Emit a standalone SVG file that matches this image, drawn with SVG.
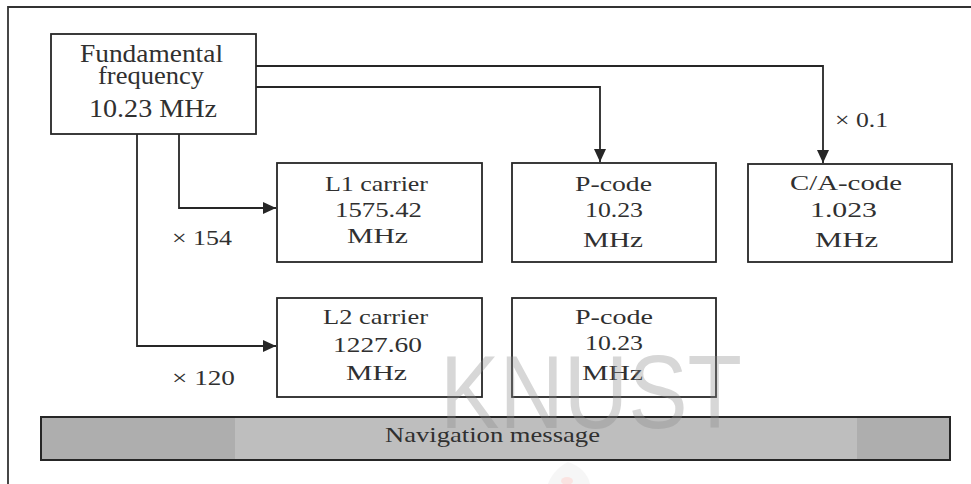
<svg xmlns="http://www.w3.org/2000/svg" width="971" height="484" viewBox="0 0 971 484">
  <style>
    .box { fill: #ffffff; stroke: #262626; stroke-width: 1.8; }
    .wire { fill: none; stroke: #262626; stroke-width: 1.8; }
    text { font-family: 'Liberation Serif', 'Times New Roman', Times, serif; }
    .t { font-size: 22px; fill: #303030; text-anchor: middle; }
    .big { font-size: 25px; }
    .lbl { text-anchor: start; }
  </style>
  <defs>
    <marker id="arrow" markerUnits="userSpaceOnUse" markerWidth="14" markerHeight="12" refX="13" refY="6" orient="auto">
      <path d="M0,0 L13,6 L0,12 z" fill="#262626"/>
    </marker>
  </defs>

  <rect width="971" height="484" fill="#ffffff"/>

  <!-- outer frame (top and left edges) -->
  <path d="M8,484 L8,7 L971,7" fill="none" stroke="#333" stroke-width="1.8"/>

  <!-- connectors -->
  <g id="connectors">
    <path class="wire" d="M256,66 H823 V163" marker-end="url(#arrow)"/>
    <path class="wire" d="M256,87 H600 V162" marker-end="url(#arrow)"/>
    <path class="wire" d="M179,134 V208 H276" marker-end="url(#arrow)"/>
    <path class="wire" d="M137,134 V346 H276" marker-end="url(#arrow)"/>
  </g>

  <!-- multiplier labels -->
  <g id="labels">
    <text class="t lbl" x="835" y="127" textLength="53" lengthAdjust="spacingAndGlyphs">× 0.1</text>
    <text class="t lbl" x="172" y="245" textLength="60" lengthAdjust="spacingAndGlyphs">× 154</text>
    <text class="t lbl" x="172" y="385" textLength="63" lengthAdjust="spacingAndGlyphs">× 120</text>
  </g>

  <g id="fundamental">
    <rect class="box" x="51" y="34" width="205" height="100"/>
    <text class="t big" x="151.5" y="62" textLength="143" lengthAdjust="spacingAndGlyphs">Fundamental</text>
    <text class="t big" x="151" y="84" textLength="106" lengthAdjust="spacingAndGlyphs">frequency</text>
    <text class="t big" x="153" y="117" textLength="128" lengthAdjust="spacingAndGlyphs">10.23 MHz</text>
  </g>

  <g id="l1-carrier">
    <rect class="box" x="277" y="163" width="205" height="99"/>
    <text class="t" x="376.5" y="191" textLength="103" lengthAdjust="spacingAndGlyphs">L1 carrier</text>
    <text class="t" x="378.5" y="217" textLength="87" lengthAdjust="spacingAndGlyphs">1575.42</text>
    <text class="t" x="377.5" y="243" textLength="61" lengthAdjust="spacingAndGlyphs">MHz</text>
  </g>

  <g id="p-code-1">
    <rect class="box" x="512" y="163" width="204" height="99"/>
    <text class="t" x="613.5" y="191" textLength="77" lengthAdjust="spacingAndGlyphs">P-code</text>
    <text class="t" x="614" y="217" textLength="58" lengthAdjust="spacingAndGlyphs">10.23</text>
    <text class="t" x="613" y="247" textLength="60" lengthAdjust="spacingAndGlyphs">MHz</text>
  </g>

  <g id="ca-code">
    <rect class="box" x="748" y="164" width="204" height="98"/>
    <text class="t" x="846" y="190" textLength="112" lengthAdjust="spacingAndGlyphs">C/A-code</text>
    <text class="t" x="843.5" y="217" textLength="67" lengthAdjust="spacingAndGlyphs">1.023</text>
    <text class="t" x="846.5" y="247" textLength="63" lengthAdjust="spacingAndGlyphs">MHz</text>
  </g>

  <g id="l2-carrier">
    <rect class="box" x="277" y="298" width="205" height="99"/>
    <text class="t" x="375.5" y="324" textLength="105" lengthAdjust="spacingAndGlyphs">L2 carrier</text>
    <text class="t" x="377.5" y="352" textLength="89" lengthAdjust="spacingAndGlyphs">1227.60</text>
    <text class="t" x="376.5" y="380" textLength="61" lengthAdjust="spacingAndGlyphs">MHz</text>
  </g>

  <g id="p-code-2">
    <rect class="box" x="512" y="298" width="204" height="99"/>
    <text class="t" x="614" y="324" textLength="78" lengthAdjust="spacingAndGlyphs">P-code</text>
    <text class="t" x="614" y="350" textLength="58" lengthAdjust="spacingAndGlyphs">10.23</text>
    <text class="t" x="612.5" y="380" textLength="61" lengthAdjust="spacingAndGlyphs">MHz</text>
  </g>

  <g id="navigation-message">
    <rect x="41" y="417" width="909" height="43" fill="#aeaeae"/>
    <rect x="235" y="418" width="622" height="41" fill="#bebebe"/>
    <rect x="41" y="417" width="909" height="43" fill="none" stroke="#262626" stroke-width="2"/>
    <text class="t" x="492.5" y="442" textLength="215" lengthAdjust="spacingAndGlyphs">Navigation message</text>
  </g>

  <!-- faint watermark -->
  <g id="watermark" opacity="0.34">
    <text x="440" y="428" style="font-family: 'Liberation Sans', Arial, sans-serif;" font-size="104" fill="#8c8c8c" textLength="302" lengthAdjust="spacingAndGlyphs">KNUST</text>
    <path d="M568,462 C552,470 548,484 548,484 L590,484 C588,474 580,466 568,462 z" fill="#e6e6e6"/>
    <ellipse cx="567" cy="481" rx="6" ry="4" fill="#f2b0a8"/>
  </g>
</svg>
